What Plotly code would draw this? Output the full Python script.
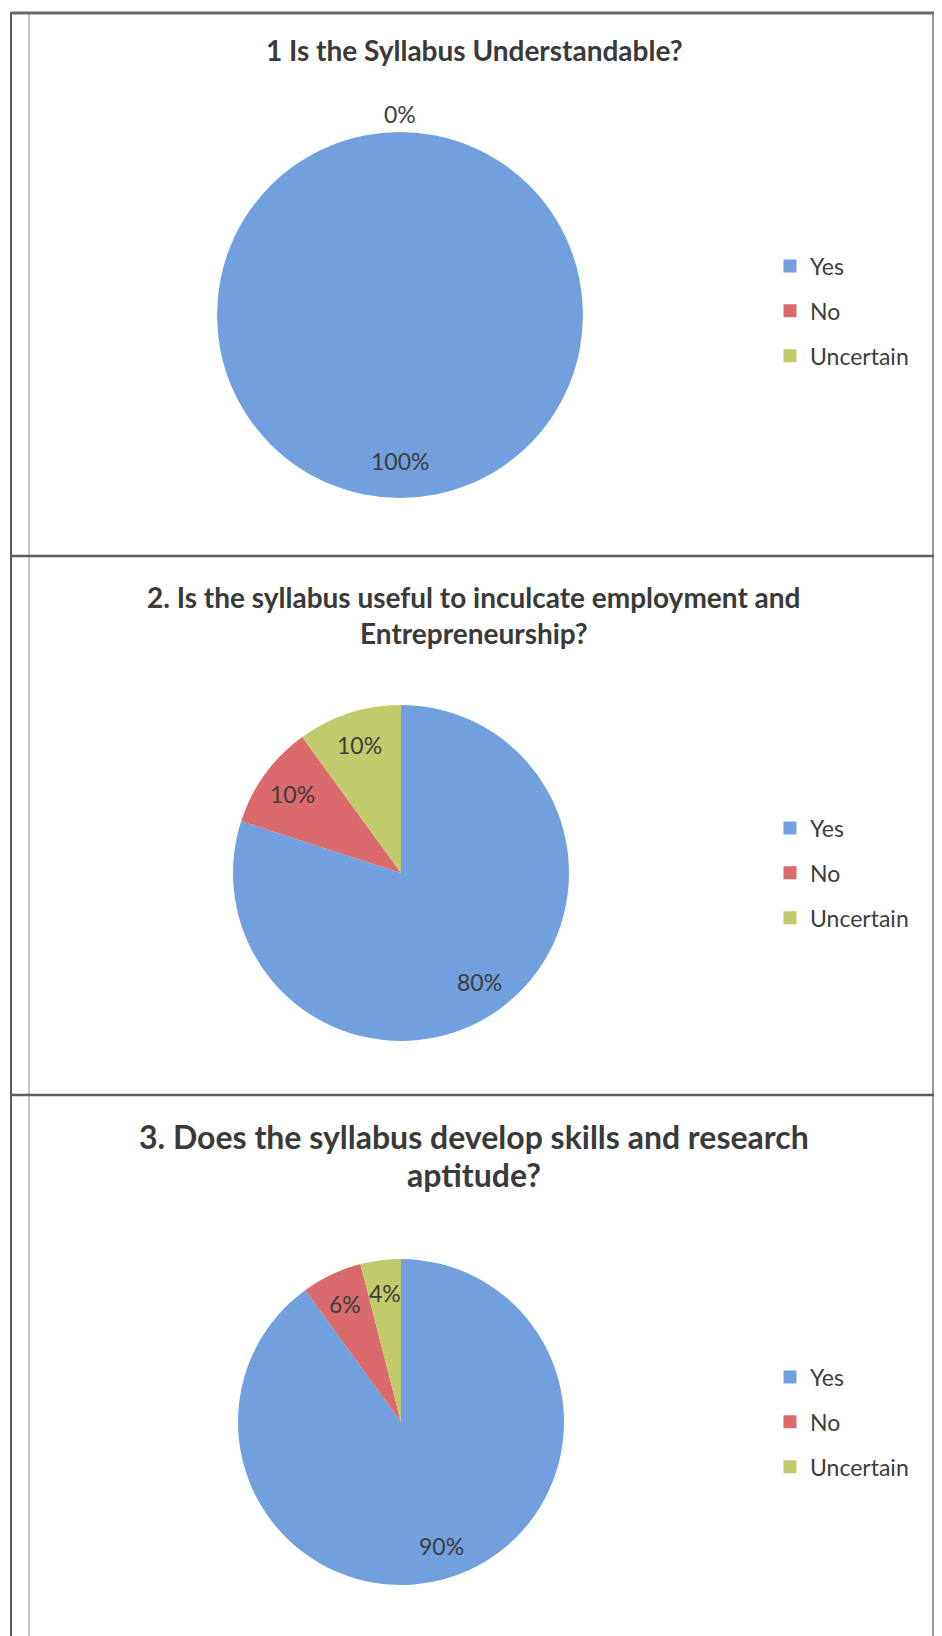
import math
import plotly.graph_objects as go

# ---- data ----
labels = ["Yes", "No", "Uncertain"]
q1_values = [100, 0, 0]
q2_values = [80, 10, 10]
q3_values = [90, 6, 4]
q1_title = ["1 Is the Syllabus Understandable?"]
q2_title = ["2. Is the syllabus useful to inculcate employment and", "Entrepreneurship?"]
q3_title = ["3. Does the syllabus develop skills and research", "aptitude?"]

colors = ["#72A0DE", "#DA6A6C", "#C2CB6C"]
W, H = 942, 1636
FONT = "Lato"
TEXT = "#3d3d3d"

panels = [
    dict(key="q1", values=q1_values, title=q1_title, cx=392, cy=307, r=183,
         ty=42, tsize=28, tgap=36, ly=303, leg="legend"),
    dict(key="q2", values=q2_values, title=q2_title, cx=393, cy=865, r=168,
         ty=607, tsize=28, tgap=36, ly=865, leg="legend2"),
    dict(key="q3", values=q3_values, title=q3_title, cx=393, cy=1414, r=163,
         ty=1147, tsize=32, tgap=38, ly=1414, leg="legend3"),
]

fig = go.Figure()
annotations = []

for p in panels:
    cx, cy, r = p["cx"], p["cy"], p["r"]
    fig.add_trace(go.Pie(
        labels=labels, values=p["values"], sort=False, direction="clockwise", rotation=0,
        marker=dict(colors=colors, line=dict(width=0)),
        textinfo="none", hoverinfo="label+percent",
        domain=dict(x=[(cx - r) / W, (cx + r) / W], y=[1 - (cy + r) / H, 1 - (cy - r) / H]),
        showlegend=False,
    ))
    # legend entries (one per category, spaced like the original legend)
    for lab, col in zip(labels, colors):
        fig.add_trace(go.Scatter(
            x=[None], y=[None], mode="markers", name=lab,
            marker=dict(symbol="square", size=13, color=col),
            legend=p["leg"], legendgroup=p["key"] + lab, showlegend=True, hoverinfo="skip",
        ))
    # data labels along slice bisectors
    total = sum(p["values"])
    cum = 0
    seen = set()
    for v in p["values"]:
        f = (cum + v / 2) / total
        k = 0.8 if v > 0 else 1.1
        th = 2 * math.pi * f
        x = cx + k * r * math.sin(th)
        y = cy - k * r * math.cos(th)
        key = (round(x), round(y))
        if key not in seen:
            seen.add(key)
            annotations.append(dict(
                x=x / W, y=1 - y / H, xref="paper", yref="paper", showarrow=False,
                text=f"{round(100 * v / total)}%", font=dict(family=FONT, size=23, color=TEXT),
                xanchor="center", yanchor="middle"))
        cum += v
    n = len(p["title"])
    for i, line_txt in enumerate(p["title"]):
        ty = p["ty"] + (i - (n - 1) / 2) * p["tgap"]
        annotations.append(dict(
            x=466 / W, y=1 - ty / H, xref="paper", yref="paper", showarrow=False,
            text="<b>" + line_txt + "</b>", font=dict(family=FONT, size=p["tsize"], color="#3a3a3a"),
            xanchor="center", yanchor="middle", align="center"))

legend_common = dict(
    xanchor="left", yanchor="middle", traceorder="grouped", tracegroupgap=12,
    font=dict(family=FONT, size=23, color=TEXT), bgcolor="rgba(0,0,0,0)", itemclick=False,
    itemdoubleclick=False,
)
layout_legends = {}
for p in panels:
    layout_legends[p["leg"]] = dict(legend_common, x=762 / W, y=1 - p["ly"] / H)

# frame lines
shapes = []
def line(x0, y0, x1, y1, color, width):
    shapes.append(dict(type="line", xref="paper", yref="paper",
                       x0=x0 / W, y0=1 - y0 / H, x1=x1 / W, y1=1 - y1 / H,
                       line=dict(color=color, width=width)))

line(3, 4, 3, 1633, "#5a5a5a", 2)
line(21, 4, 21, 1633, "#b0b0b0", 1.5)
line(925, 4, 925, 1633, "#9a9a9a", 2)
line(940, 4, 940, 1633, "#c8c8c8", 1.5)
line(3, 5, 940, 5, "#6a6a6a", 3)
line(3, 548, 940, 548, "#5e5e5e", 2.5)
line(3, 1087, 940, 1087, "#5e5e5e", 2.5)
line(3, 1632, 940, 1632, "#808080", 2)

fig.update_layout(
    width=W, height=H, margin=dict(l=0, r=0, t=0, b=0),
    paper_bgcolor="white", plot_bgcolor="white",
    xaxis=dict(visible=False), yaxis=dict(visible=False),
    annotations=annotations, shapes=shapes,
    **layout_legends,
)

fig.write_html("out.html")
